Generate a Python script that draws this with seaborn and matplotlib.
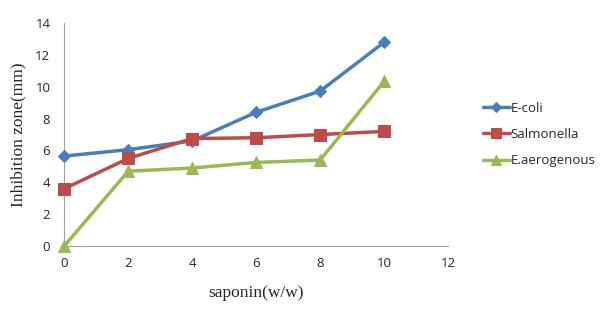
import matplotlib
matplotlib.use("Agg")
import matplotlib.pyplot as plt
import pandas as pd
import seaborn as sns

saponin = [0, 2, 4, 6, 8, 10]
ecoli = [5.65, 6.05, 6.6, 8.4, 9.73, 12.8]
salmonella = [3.6, 5.5, 6.75, 6.8, 7.0, 7.2]
aerogenous = [0.0, 4.7, 4.9, 5.25, 5.4, 10.35]

series_names = ["E-coli", "Salmonella", "E.aerogenous"]
colors = ["#4a7ebb", "#be4b48", "#98b954"]
markers = ["D", "s", "^"]
marker_sizes = [6, 8, 8]

df = pd.DataFrame({"saponin": saponin, "E-coli": ecoli,
                   "Salmonella": salmonella, "E.aerogenous": aerogenous})
long_df = df.melt(id_vars="saponin", var_name="strain", value_name="zone")

sns.set_style("white")
tick_font = "Open Sans"
label_font = "Liberation Serif"

fig = plt.figure(figsize=(6, 3.2), dpi=100)
ax = fig.add_axes([0.107, 0.231, 0.64, 0.697])

for name, c, m, ms in zip(series_names, colors, markers, marker_sizes):
    sub = long_df[long_df["strain"] == name]
    sns.lineplot(ax=ax, data=sub, x="saponin", y="zone", color=c, marker=m,
                 markersize=ms, markeredgecolor=c, linewidth=2.5, label=name,
                 errorbar=None, clip_on=False, zorder=3)

ax.set_xlim(0, 12)
ax.set_ylim(0, 14)
ax.set_xticks(range(0, 13, 2))
ax.set_yticks(range(0, 15, 2))
for lab in ax.get_xticklabels() + ax.get_yticklabels():
    lab.set_family(tick_font)
    lab.set_fontsize(9.5)
ax.tick_params(length=0, pad=8)
ax.tick_params(axis="y", pad=10)

ax.set_xlabel("saponin(w/w)", family=label_font, fontsize=12.5, labelpad=11)
ax.set_ylabel("Inhibition zone(mm)", family=label_font, fontsize=12.5, labelpad=6)

for s in ["top", "right"]:
    ax.spines[s].set_visible(False)
for s in ["left", "bottom"]:
    ax.spines[s].set_color("#a0a0a0")
    ax.spines[s].set_linewidth(0.8)

leg = ax.legend(loc="center left", bbox_to_anchor=(1.06, 0.5), frameon=False,
                prop={"family": tick_font, "size": 9.5}, handlelength=2.0,
                labelspacing=1.0, handletextpad=0.1, markerscale=0.85)

fig.savefig("out.png", dpi=100)
